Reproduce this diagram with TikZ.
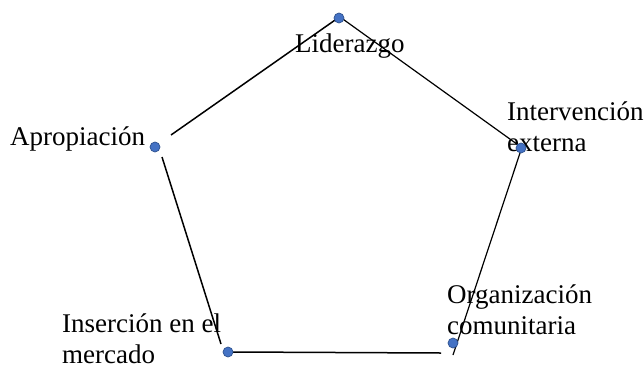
\documentclass[tikz,border=0pt]{standalone}
\usepackage{fontspec}
\setmainfont{Liberation Serif}
\definecolor{dotfill}{HTML}{4472C4}
\definecolor{dotdraw}{HTML}{2F528F}
\begin{document}
\begin{tikzpicture}[x=1pt,y=-1pt,
  dot/.style={circle,fill=dotfill,draw=dotdraw,line width=0.7pt,minimum size=10pt,inner sep=0pt},
  lab/.style={anchor=base west,inner sep=0pt,font=\fontsize{27}{31}\selectfont,align=left},
  edge/.style={line width=1.5pt,black}]
\useasboundingbox (0,0) rectangle (644,367);
% line end points
\coordinate (a1) at (171,135);
\coordinate (a2) at (338,18);
\coordinate (b1) at (340,17);
\coordinate (b2) at (521,147);
\coordinate (c1) at (521,150);
\coordinate (c2) at (453,355);
\coordinate (d1) at (233,352);
\coordinate (d2) at (441,353);
\coordinate (e1) at (162,157);
\coordinate (e2) at (221,344);
% labels (multi-line nodes: base anchor is the last line)
\node[lab] (lid) at (295,52) {Liderazgo};
\node[lab] (apr) at (10,145) {Apropiación};
\node[lab] (int) at (507,151) {Intervención\\externa};
\node[lab] (org) at (447,334) {Organización\\comunitaria};
\node[lab] (ins) at (62,363) {Inserción en el\\mercado};
% connectors
\draw[edge] (a1) -- (a2);
\draw[edge,line width=1.2pt] (b1) -- (b2);
\draw[edge,line width=1.2pt] (c1) -- (c2);
\draw[edge] (d1) -- (d2);
\draw[edge] (e1) -- (e2);
% dots
\node[dot] (T) at (339,18) {};
\node[dot] (L) at (155,147) {};
\node[dot] (R) at (521,148) {};
\node[dot] (BR) at (453,343) {};
\node[dot] (BL) at (228,352) {};
\end{tikzpicture}
\end{document}
